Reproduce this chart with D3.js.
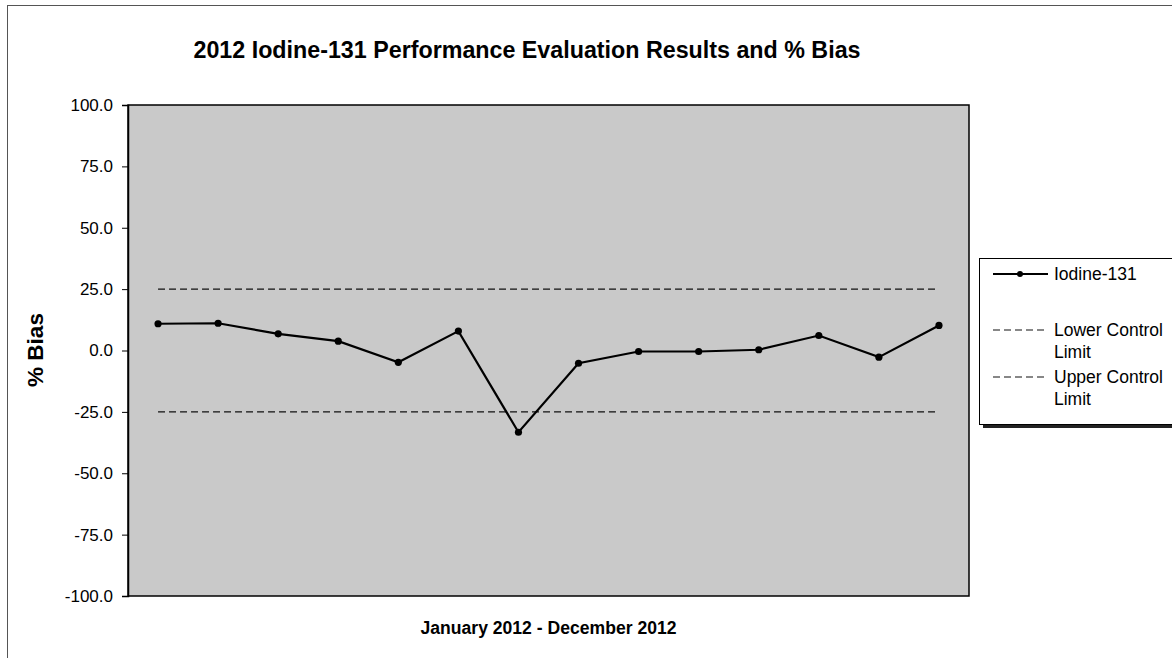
<!DOCTYPE html>
<html><head><meta charset="utf-8">
<script src="https://cdn.jsdelivr.net/npm/d3@7"></script>
<style>
html,body{margin:0;padding:0;background:#fff;}
svg{display:block;font-family:"Liberation Sans",Arial,sans-serif;}
</style></head>
<body>
<svg id="chart" width="1172" height="658"></svg>
<script>
const categories = ["1","2","3","4","5","6","7","8","9","10","11","12","13","14"];
const biasValues = [10.9, 11.1, 6.8, 3.8, -4.8, 7.9, -33.3, -5.2, -0.4, -0.4, 0.3, 6.1, -2.7, 10.2];
const lowerLimit = 25;
const upperLimit = -25;
const yTicks = [100, 75, 50, 25, 0, -25, -50, -75, -100];
const titleText = "2012 Iodine-131 Performance Evaluation Results and % Bias";
const xTitle = "January 2012 - December 2012";
const yTitle = "% Bias";
const legendNames = ["Iodine-131", "Lower Control Limit", "Upper Control Limit"];

const svg = d3.select("#chart");
const plot = {left: 128, right: 969, top: 105, bottom: 596};

// outer frame
svg.append("rect").attr("x", 7.5).attr("y", 5.5).attr("width", 1200).attr("height", 700)
  .attr("fill", "none").attr("stroke", "#555").attr("stroke-width", 1);

const x = d3.scaleBand().domain(categories).range([plot.left, plot.right]);
const y = d3.scaleLinear().domain([-100, 100]).range([plot.bottom, plot.top]);
const cx = d => x(d) + x.bandwidth() / 2;

// plot area
svg.append("rect").attr("x", plot.left).attr("y", plot.top)
  .attr("width", plot.right - plot.left).attr("height", plot.bottom - plot.top)
  .attr("fill", "#c9c9c9").attr("stroke", "#000").attr("stroke-width", 1.5);

// y axis
const fmt = d3.format(".1f");
const yAxis = d3.axisLeft(y).tickValues(yTicks).tickFormat(d => fmt(d).replace("\u2212", "-")).tickSize(6).tickPadding(9);
const ga = svg.append("g").attr("transform", `translate(${plot.left},0)`).call(yAxis);
ga.select(".domain").attr("stroke", "#000").attr("stroke-width", 1.5);
ga.selectAll(".tick line").attr("stroke", "#000");
ga.selectAll(".tick text").attr("font-size", 17).attr("fill", "#000")
  .attr("font-family", "'Liberation Sans',Arial,sans-serif");

// control limit lines
[lowerLimit, upperLimit].forEach(v => {
  svg.append("line")
    .attr("x1", cx(categories[0])).attr("x2", cx(categories[categories.length - 1]))
    .attr("y1", y(v)).attr("y2", y(v))
    .attr("stroke", "#111").attr("stroke-width", 1.2).attr("stroke-dasharray", "7,4");
});

// series line
const line = d3.line().x((d, i) => cx(categories[i])).y(d => y(d));
svg.append("path").datum(biasValues).attr("d", line)
  .attr("fill", "none").attr("stroke", "#000").attr("stroke-width", 2.2);
svg.selectAll("circle.pt").data(biasValues).enter().append("circle")
  .attr("class", "pt").attr("cx", (d, i) => cx(categories[i])).attr("cy", d => y(d))
  .attr("r", 3.6).attr("fill", "#000");

// titles
svg.append("text").attr("x", 527).attr("y", 58).attr("text-anchor", "middle")
  .attr("font-size", 23).attr("font-weight", "bold").attr("textLength", 667)
  .attr("lengthAdjust", "spacingAndGlyphs").text(titleText);
svg.append("text").attr("x", (plot.left + plot.right) / 2).attr("y", 634).attr("text-anchor", "middle")
  .attr("font-size", 17.5).attr("font-weight", "bold").attr("textLength", 256)
  .attr("lengthAdjust", "spacingAndGlyphs").text(xTitle);
svg.append("text").attr("transform", `translate(43,350) rotate(-90)`).attr("text-anchor", "middle")
  .attr("font-size", 22.5).attr("font-weight", "bold").text(yTitle);

// legend
const lg = svg.append("g");
lg.append("rect").attr("x", 983).attr("y", 425).attr("width", 220).attr("height", 3).attr("fill", "#222");
lg.append("rect").attr("x", 979.5).attr("y", 258.5).attr("width", 220).attr("height", 166)
  .attr("fill", "#fff").attr("stroke", "#000").attr("stroke-width", 1);
lg.append("line").attr("x1", 993).attr("x2", 1048).attr("y1", 274).attr("y2", 274)
  .attr("stroke", "#000").attr("stroke-width", 2);
lg.append("circle").attr("cx", 1020).attr("cy", 274).attr("r", 3).attr("fill", "#000");
lg.append("text").attr("x", 1054).attr("y", 280).attr("font-size", 17.5).text(legendNames[0]);

const limitRows = [{name: legendNames[1], y: 330}, {name: legendNames[2], y: 377}];
limitRows.forEach(r => {
  lg.append("line").attr("x1", 993).attr("x2", 1048).attr("y1", r.y).attr("y2", r.y)
    .attr("stroke", "#111").attr("stroke-width", 1.2).attr("stroke-dasharray", "7,4");
  const words = r.name.split(" ");
  const t = lg.append("text").attr("x", 1054).attr("y", r.y + 6).attr("font-size", 17.5);
  t.append("tspan").attr("x", 1054).attr("dy", 0).text(words.slice(0, 2).join(" "));
  t.append("tspan").attr("x", 1054).attr("dy", 22).text(words.slice(2).join(" "));
});
</script>
</body></html>
